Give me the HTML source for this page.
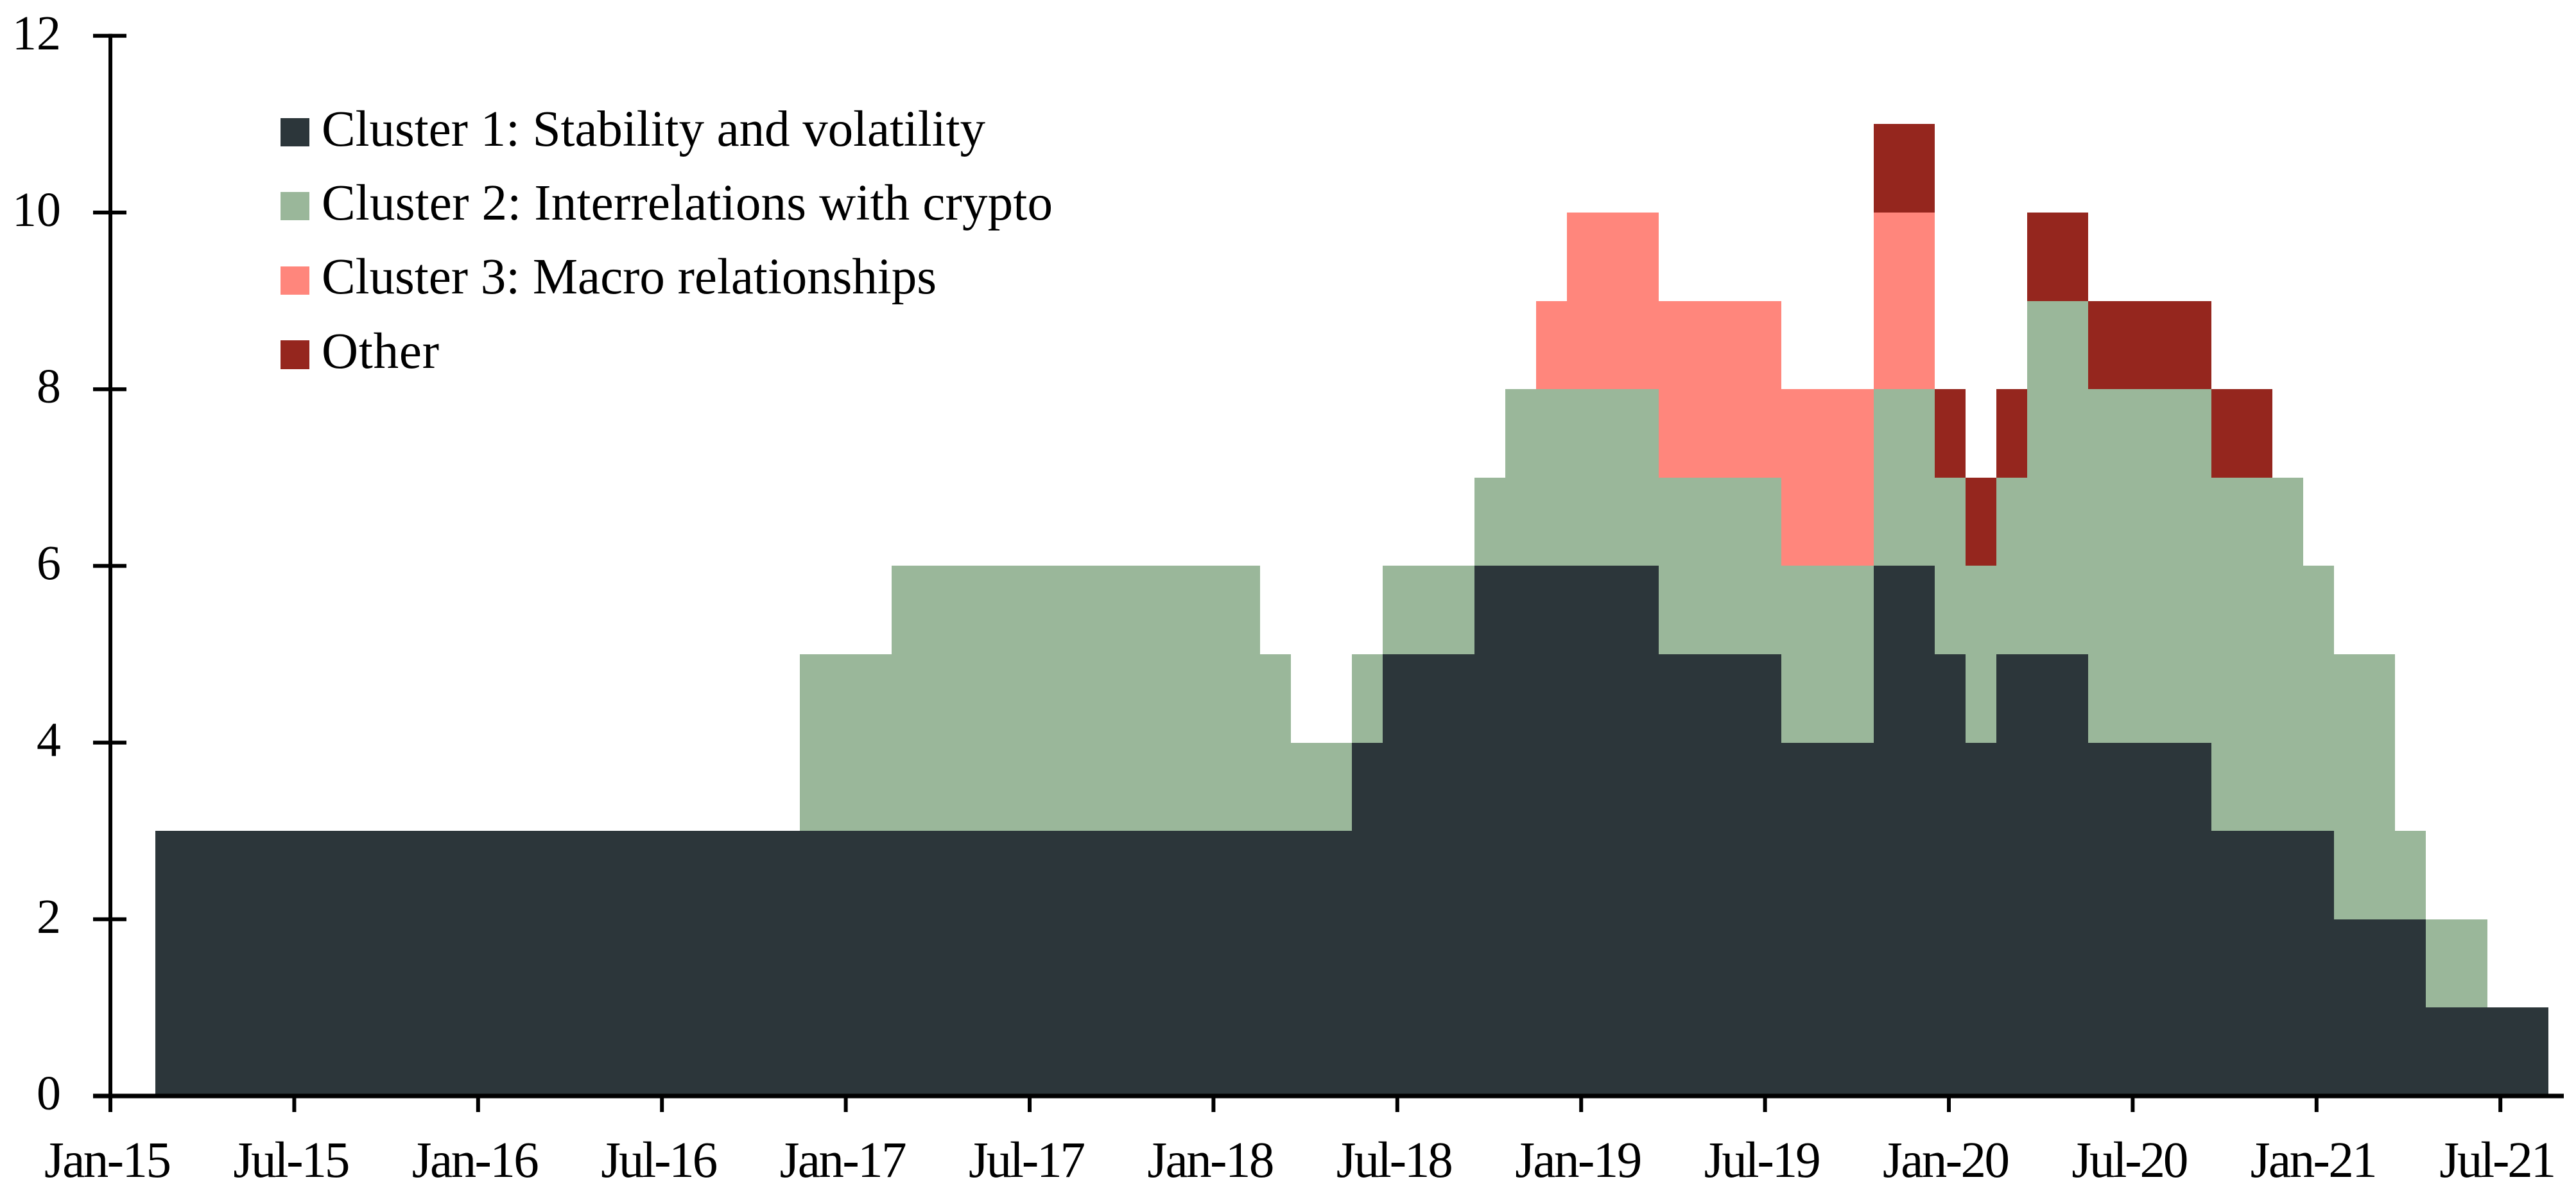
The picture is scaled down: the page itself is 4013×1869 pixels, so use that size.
<!DOCTYPE html>
<html lang="en">
<head>
<meta charset="utf-8">
<title>Cluster composition over time</title>
<style>
  html, body { margin: 0; padding: 0; background: #ffffff; }
  svg { display: block; }
  text { font-family: "Liberation Serif", serif; fill: #000000; }
</style>
</head>
<body>
<svg id="chart" xmlns="http://www.w3.org/2000/svg" width="4013" height="1869" viewBox="0 0 4013 1869">
  <g id="marks" shape-rendering="crispEdges"></g>
  <g id="axes"></g>
  <g>
    <g>
      <rect x="437" y="184" width="45" height="44" fill="#2c363a"/>
      <text x="501" y="227" font-size="79" textLength="1034" lengthAdjust="spacing">Cluster 1: Stability and volatility</text>
    </g>
    <g>
      <rect x="437" y="299" width="45" height="44" fill="#9ab79a"/>
      <text x="501" y="342" font-size="79" textLength="1139" lengthAdjust="spacing">Cluster 2: Interrelations with crypto</text>
    </g>
    <g>
      <rect x="437" y="415" width="45" height="44" fill="#ff867c"/>
      <text x="501" y="457" font-size="79" textLength="958" lengthAdjust="spacing">Cluster 3: Macro relationships</text>
    </g>
    <g>
      <rect x="437" y="530" width="45" height="45" fill="#95261e"/>
      <text x="501" y="573" font-size="79" textLength="183" lengthAdjust="spacing">Other</text>
    </g>
  </g>
</svg>
<script>
const months = [
  'Feb-15','Mar-15','Apr-15','May-15','Jun-15','Jul-15','Aug-15','Sep-15','Oct-15','Nov-15','Dec-15',
  'Jan-16','Feb-16','Mar-16','Apr-16','May-16','Jun-16','Jul-16','Aug-16','Sep-16','Oct-16','Nov-16','Dec-16',
  'Jan-17','Feb-17','Mar-17','Apr-17','May-17','Jun-17','Jul-17','Aug-17','Sep-17','Oct-17','Nov-17','Dec-17',
  'Jan-18','Feb-18','Mar-18','Apr-18','May-18','Jun-18','Jul-18','Aug-18','Sep-18','Oct-18','Nov-18','Dec-18',
  'Jan-19','Feb-19','Mar-19','Apr-19','May-19','Jun-19','Jul-19','Aug-19','Sep-19','Oct-19','Nov-19','Dec-19',
  'Jan-20','Feb-20','Mar-20','Apr-20','May-20','Jun-20','Jul-20','Aug-20','Sep-20','Oct-20','Nov-20','Dec-20',
  'Jan-21','Feb-21','Mar-21','Apr-21','May-21','Jun-21','Jul-21'
];
const cluster1 = [
  3,3,3,3,3,3,3,3,3,3,3,3,3,3,3,3,3,3,3,3,
  3,3,3,3,3,3,3,3,3,3,3,3,3,3,3,3,3,3,3,4,
  5,5,5,6,6,6,6,6,6,5,5,5,5,4,4,4,6,6,5,4,
  5,5,5,4,4,4,4,3,3,3,3,2,2,2,1,1,1,1
];
const cluster2 = [
  0,0,0,0,0,0,0,0,0,0,0,0,0,0,0,0,0,0,0,0,
  0,2,2,2,3,3,3,3,3,3,3,3,3,3,3,3,2,1,1,1,
  1,1,1,1,2,2,2,2,2,2,2,2,2,2,2,2,2,2,2,2,
  2,4,4,4,4,4,4,4,4,4,3,3,3,1,1,1,0,0
];
const cluster3 = [
  0,0,0,0,0,0,0,0,0,0,0,0,0,0,0,0,0,0,0,0,
  0,0,0,0,0,0,0,0,0,0,0,0,0,0,0,0,0,0,0,0,
  0,0,0,0,0,1,2,2,2,2,2,2,2,2,2,2,2,2,0,0,
  0,0,0,0,0,0,0,0,0,0,0,0,0,0,0,0,0,0
];
const other = [
  0,0,0,0,0,0,0,0,0,0,0,0,0,0,0,0,0,0,0,0,
  0,0,0,0,0,0,0,0,0,0,0,0,0,0,0,0,0,0,0,0,
  0,0,0,0,0,0,0,0,0,0,0,0,0,0,0,0,1,1,1,1,
  1,1,1,1,1,1,1,1,1,0,0,0,0,0,0,0,0,0
];
const yTickValues = [0, 2, 4, 6, 8, 10, 12];
const xTickLabels = ['Jan-15','Jul-15','Jan-16','Jul-16','Jan-17','Jul-17','Jan-18','Jul-18','Jan-19','Jul-19','Jan-20','Jul-20','Jan-21','Jul-21'];

const NS = 'http://www.w3.org/2000/svg';
const marks = document.getElementById('marks');
const axes = document.getElementById('axes');

function yScale(v) { return 1707 - v * 137.6; }
function xBandLeft(i) { return 242 + i * 47.8; }
function xTick(i) { return 172 + i * 286.4; }

const seriesList = [
  { key: 'cluster-1', values: cluster1, color: '#2c363a' },
  { key: 'cluster-2', values: cluster2, color: '#9ab79a' },
  { key: 'cluster-3', values: cluster3, color: '#ff867c' },
  { key: 'other', values: other, color: '#95261e' }
];

months.forEach(function (month, i) {
  let base = 0;
  seriesList.forEach(function (s) {
    const v = s.values[i];
    if (v > 0) {
      const r = document.createElementNS(NS, 'rect');
      
      
      const x0 = Math.round(xBandLeft(i));
      const x1 = Math.round(xBandLeft(i + 1));
      const y0 = Math.round(yScale(base));
      const y1 = Math.round(yScale(base + v));
      r.setAttribute('x', x0);
      r.setAttribute('y', y1);
      r.setAttribute('width', x1 - x0);
      r.setAttribute('height', y0 - y1);
      r.setAttribute('fill', s.color);
      marks.appendChild(r);
    }
    base += v;
  });
});

function addLine(parent, x1, y1, x2, y2, w) {
  const l = document.createElementNS(NS, 'line');
  l.setAttribute('x1', x1);
  l.setAttribute('y1', y1);
  l.setAttribute('x2', x2);
  l.setAttribute('y2', y2);
  l.setAttribute('stroke', '#000000');
  l.setAttribute('stroke-width', w);
  parent.appendChild(l);
  return l;
}

const yAxisLine = addLine(axes, 172, yScale(12) - 3, 172, 1732, 6);



const xAxisLine = addLine(axes, 145, yScale(0), 3994, yScale(0), 7);



yTickValues.forEach(function (v) {
  if (v > 0) {
    const t = addLine(axes, 145, yScale(v), 197, yScale(v), 6);
    
    
  }
  const label = document.createElementNS(NS, 'text');
  
  
  label.setAttribute('x', 95);
  label.setAttribute('y', yScale(v) + 21);
  label.setAttribute('text-anchor', 'end');
  label.setAttribute('font-size', '76');
  label.textContent = String(v);
  axes.appendChild(label);
});

xTickLabels.forEach(function (name, i) {
  if (i > 0) {
    const t = addLine(axes, xTick(i), yScale(0), xTick(i), 1732, 6);
    
    
  }
  const label = document.createElementNS(NS, 'text');
  
  
  label.setAttribute('x', xTick(i) - 4);
  label.setAttribute('y', 1833);
  label.setAttribute('text-anchor', 'middle');
  label.setAttribute('font-size', '79');
  label.setAttribute('textLength', name.indexOf('Jan') === 0 ? '198' : '182');
  label.setAttribute('lengthAdjust', 'spacing');
  label.textContent = name;
  axes.appendChild(label);
});
</script>
</body>
</html>
